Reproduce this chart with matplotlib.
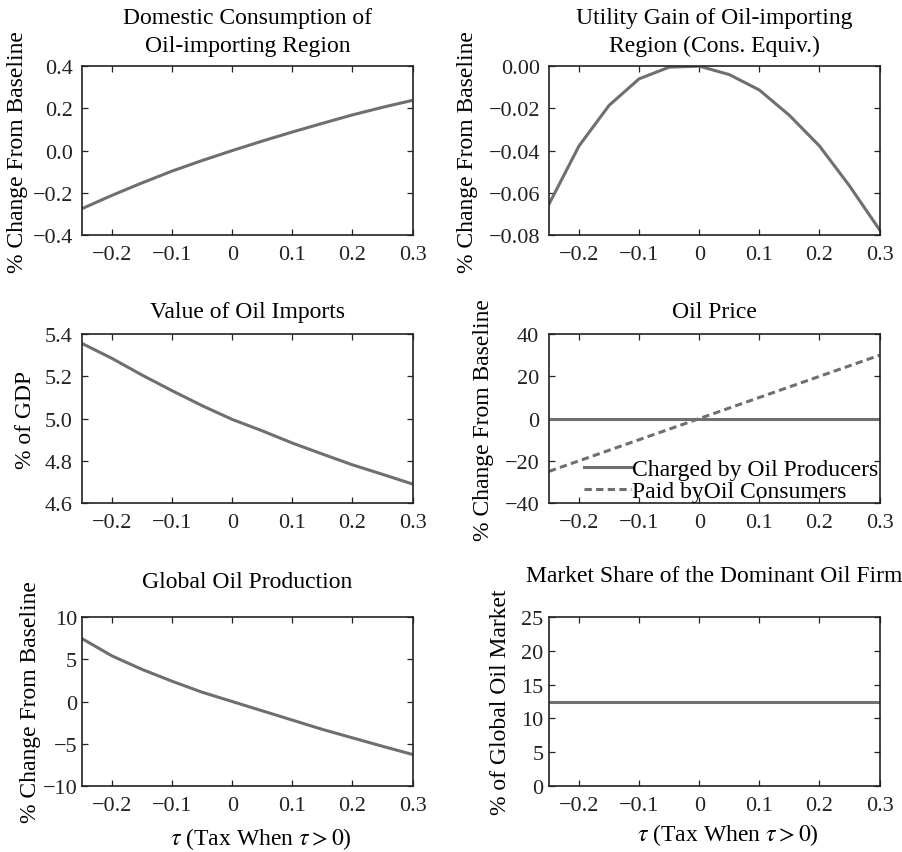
#!/usr/bin/env python3
"""
Six-panel figure: effects of an oil tax/subsidy tau on the oil-importing region
"""

import matplotlib
matplotlib.use("Agg")
import matplotlib.pyplot as plt
from matplotlib.ticker import FuncFormatter

plt.rcParams["font.family"] = ["Liberation Serif", "DejaVu Serif"]
plt.rcParams["mathtext.fontset"] = "stix"

# tau grid (every 0.05)
tau = [-0.25, -0.2, -0.15, -0.1, -0.05, 0.0, 0.05, 0.1, 0.15, 0.2, 0.25, 0.3]

consumption = [-0.275, -0.212, -0.153, -0.097, -0.047, 0.0, 0.045, 0.088, 0.129, 0.169, 0.205, 0.238]
utility = [-0.0654, -0.0378, -0.0186, -0.0060, -0.0005, 0.0, -0.0040, -0.0113, -0.0233, -0.0378, -0.0567, -0.0775]
oil_imports = [5.356, 5.285, 5.206, 5.132, 5.061, 4.996, 4.942, 4.884, 4.832, 4.781, 4.736, 4.690]
price_producers = [0.0] * 12
price_consumers = [-25, -20, -15, -10, -5, 0, 5, 10, 15, 20, 25, 30]
production = [7.45, 5.4, 3.8, 2.4, 1.1, 0.0, -1.1, -2.2, -3.3, -4.3, -5.3, -6.27]
market_share = [12.4] * 12

x_ticks = [-0.2, -0.1, 0, 0.1, 0.2, 0.3]
x_ticklabels = ["\u22120.2", "\u22120.1", "0", "0.1", "0.2", "0.3"]

LINE = "#6f6f6f"
TFS = 16      # tick labels
FS = 17       # titles / axis labels
LW = 2.2
XLABEL = r"$\tau$ (Tax When $\tau > 0$)"


def style_axis(ax, ylim, yticks, fmt, ypad):
    ax.set_xlim(-0.25, 0.3)
    ax.set_ylim(*ylim)
    ax.set_xticks(x_ticks)
    ax.set_xticklabels(x_ticklabels)
    ax.set_yticks(yticks)
    ax.yaxis.set_major_formatter(FuncFormatter(lambda v, p: fmt.format(v).replace("-", "\u2212")))
    ax.tick_params(direction="in", top=True, right=True, length=4, width=0.9,
                   labelsize=TFS, colors="#222222")
    ax.tick_params(axis="x", pad=7)
    ax.tick_params(axis="y", pad=ypad)
    for s in ax.spines.values():
        s.set_linewidth(1.2)
        s.set_color("#222222")


fig = plt.figure(figsize=(9.02, 8.53), dpi=100)

left_x, right_x, w = 0.0909, 0.6086, 0.3665
rows = [0.7233, 0.4091, 0.0774]
h = 0.198

# Domestic consumption
ax = fig.add_axes([left_x, rows[0], w, h])
ax.plot(tau, consumption, color=LINE, lw=LW)
style_axis(ax, (-0.4, 0.4), [-0.4, -0.2, 0.0, 0.2, 0.4], "{:.1f}", 6.5)
ax.set_title("Domestic Consumption of\nOil-importing Region", fontsize=FS, pad=11, linespacing=1.4)
ax.set_ylabel("% Change From Baseline", fontsize=FS)
ax.yaxis.set_label_coords(-0.163, 0.5)

# Utility gain
ax = fig.add_axes([right_x, rows[0], w, h])
ax.plot(tau, utility, color=LINE, lw=LW)
style_axis(ax, (-0.08, 0.0), [-0.08, -0.06, -0.04, -0.02, 0.0], "{:.2f}", 6.5)
ax.set_title("Utility Gain of Oil-importing\nRegion (Cons. Equiv.)", fontsize=FS, pad=11, linespacing=1.4)
ax.set_ylabel("% Change From Baseline", fontsize=FS)
ax.yaxis.set_label_coords(-0.215, 0.5)

# Value of oil imports
ax = fig.add_axes([left_x, rows[1], w, h])
ax.plot(tau, oil_imports, color=LINE, lw=LW)
style_axis(ax, (4.6, 5.4), [4.6, 4.8, 5.0, 5.2, 5.4], "{:.1f}", 6.5)
ax.set_title("Value of Oil Imports", fontsize=FS, pad=12)
ax.set_ylabel("% of GDP", fontsize=FS)
ax.yaxis.set_label_coords(-0.138, 0.5)

# Oil price
ax = fig.add_axes([right_x, rows[1], w, h])
ax.plot(tau, price_producers, color=LINE, lw=LW, label="Charged by Oil Producers")
ax.plot(tau, price_consumers, color=LINE, lw=LW, ls=(0, (2.4, 1.4)), label="Paid byOil Consumers")
style_axis(ax, (-40, 40), [-40, -20, 0, 20, 40], "{:.0f}", 7)
ax.set_title("Oil Price", fontsize=FS, pad=12)
ax.set_ylabel("% Change From Baseline", fontsize=FS)
ax.yaxis.set_label_coords(-0.167, 0.5)
ax.legend(loc="lower right", frameon=False, fontsize=FS, handlelength=2.0,
          handletextpad=0.05, labelspacing=0.0, borderaxespad=0.05, borderpad=0.0)

# Global oil production
ax = fig.add_axes([left_x, rows[2], w, h])
ax.plot(tau, production, color=LINE, lw=LW)
style_axis(ax, (-10, 10), [-10, -5, 0, 5, 10], "{:.0f}", 3.5)
ax.set_title("Global Oil Production", fontsize=FS, pad=22)
ax.set_ylabel("% Change From Baseline", fontsize=FS)
ax.yaxis.set_label_coords(-0.124, 0.5)
ax.set_xlabel(XLABEL, fontsize=FS)
ax.xaxis.set_label_coords(0.54, -0.23)
ax.xaxis.label.set_va("top")

# Market share
ax = fig.add_axes([right_x, rows[2], w, h])
ax.plot(tau, market_share, color=LINE, lw=LW)
style_axis(ax, (0, 25), [0, 5, 10, 15, 20, 25], "{:.0f}", 4)
ax.set_title("Market Share of the Dominant Oil Firm", fontsize=FS, pad=26)
ax.set_ylabel("% of Global Oil Market", fontsize=FS)
ax.yaxis.set_label_coords(-0.115, 0.5)
ax.set_xlabel(XLABEL, fontsize=FS)
ax.xaxis.set_label_coords(0.54, -0.205)
ax.xaxis.label.set_va("top")

fig.savefig("out.png", dpi=100)
